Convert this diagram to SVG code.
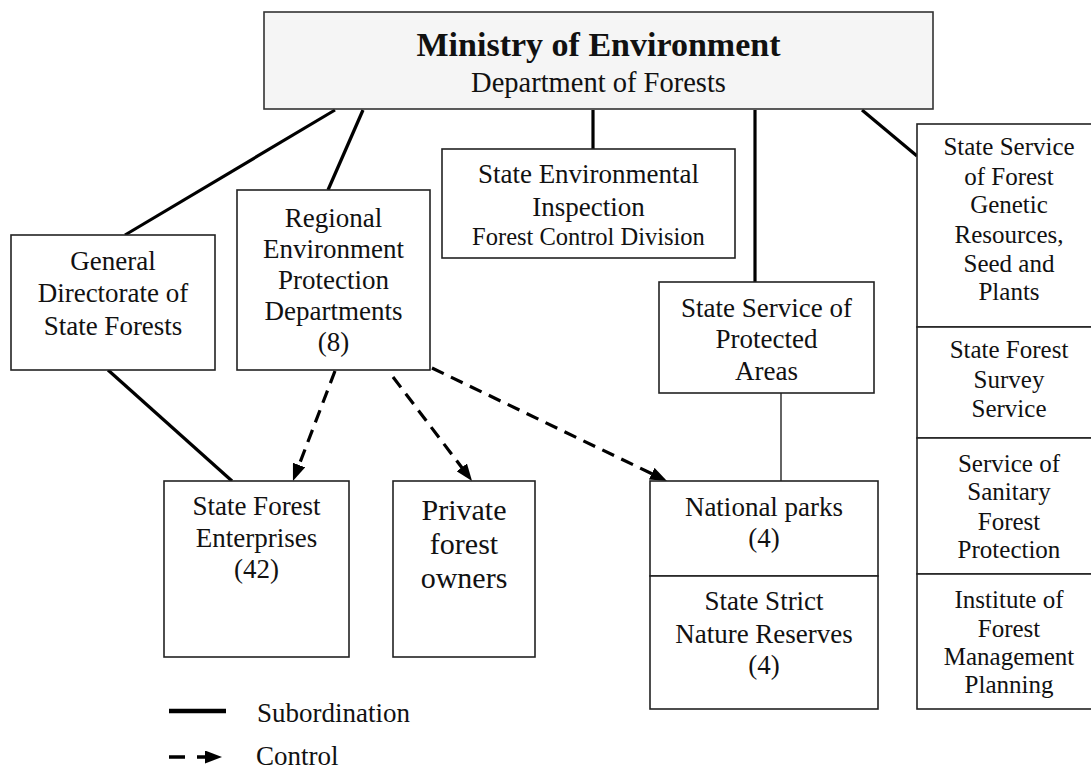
<svg xmlns="http://www.w3.org/2000/svg" width="1091" height="769" viewBox="0 0 1091 769">
<style>
  .box { fill: #ffffff; stroke: #222; stroke-width: 1.6; }
  .f { font-family: "Liberation Serif", "Tinos", "DejaVu Serif", "Noto Serif", serif; fill: #111; }
  .t { text-anchor: middle; }
  .t27 { font-size: 27px; }
  .t25 { font-size: 25px; }
  .solid { stroke: #000; stroke-width: 3.2; fill: none; }
  .thin { stroke: #111; stroke-width: 1.3; fill: none; }
  .dash { stroke: #000; stroke-width: 3.2; fill: none; stroke-dasharray: 13 8; marker-end: url(#arr); }
</style>
<defs>
  <marker id="arr" markerUnits="userSpaceOnUse" viewBox="0 0 17 13" refX="7" refY="6.5" markerWidth="17" markerHeight="13" orient="auto">
    <path d="M0,0 L17,6.5 L0,13 z" fill="#000"/>
  </marker>
</defs>
<rect width="1091" height="769" fill="#ffffff"/>

<g id="connectors">
  <line class="solid" x1="335" y1="110" x2="125" y2="235"/>
  <line class="solid" x1="363" y1="110" x2="328" y2="190"/>
  <line class="solid" x1="593" y1="110" x2="593" y2="149"/>
  <line class="solid" x1="755" y1="110" x2="755" y2="282"/>
  <line class="solid" x1="862" y1="110" x2="917" y2="156"/>
  <line class="solid" x1="108" y1="370" x2="232" y2="481"/>
  <line class="thin" x1="781" y1="393" x2="781" y2="481"/>
  <line class="dash" x1="335" y1="371" x2="296.5" y2="471.6"/>
  <line class="dash" x1="393" y1="377" x2="466" y2="473"/>
  <line class="dash" x1="432" y1="368" x2="658" y2="476.7"/>
</g>

<g id="ministry">
  <rect x="264" y="12" width="669" height="97" fill="#f5f5f5" stroke="#333" stroke-width="1.6"/>
  <text class="f t" x="598.5" y="56" font-size="34" font-weight="bold">Ministry of Environment</text>
  <text class="f t" x="598.5" y="92" font-size="28.5">Department of Forests</text>
</g>

<g id="general-directorate">
  <rect class="box" x="11" y="235" width="204" height="135"/>
  <text class="f t t27" x="113" y="270">General</text>
  <text class="f t t27" x="113" y="302">Directorate of</text>
  <text class="f t t27" x="113" y="335">State Forests</text>
</g>

<g id="regional">
  <rect class="box" x="237" y="190" width="193" height="180"/>
  <text class="f t t27" x="333.5" y="227">Regional</text>
  <text class="f t t27" x="333.5" y="258">Environment</text>
  <text class="f t t27" x="333.5" y="289">Protection</text>
  <text class="f t t27" x="333.5" y="320">Departments</text>
  <text class="f t t27" x="333.5" y="351">(8)</text>
</g>

<g id="inspection">
  <rect class="box" x="442" y="149" width="293" height="109"/>
  <text class="f t t27" x="588.5" y="183">State Environmental</text>
  <text class="f t t27" x="588.5" y="216">Inspection</text>
  <text class="f t" x="588.5" y="245" font-size="24.5">Forest Control Division</text>
</g>

<g id="protected-areas">
  <rect class="box" x="659" y="282" width="215" height="111"/>
  <text class="f t t27" x="766.5" y="317">State Service of</text>
  <text class="f t t27" x="766.5" y="348">Protected</text>
  <text class="f t t27" x="766.5" y="380">Areas</text>
</g>

<g id="national-parks">
  <rect class="box" x="650" y="481" width="228" height="95"/>
  <text class="f t t27" x="764" y="516">National parks</text>
  <text class="f t t27" x="764" y="547">(4)</text>
</g>

<g id="strict-reserves">
  <rect class="box" x="650" y="576" width="228" height="133"/>
  <text class="f t t27" x="764" y="610">State Strict</text>
  <text class="f t t27" x="764" y="643">Nature Reserves</text>
  <text class="f t t27" x="764" y="674">(4)</text>
</g>

<g id="state-forest-enterprises">
  <rect class="box" x="164" y="481" width="185" height="176"/>
  <text class="f t t27" x="256.5" y="515">State Forest</text>
  <text class="f t t27" x="256.5" y="547">Enterprises</text>
  <text class="f t t27" x="256.5" y="578">(42)</text>
</g>

<g id="private-owners">
  <rect class="box" x="393" y="481" width="142" height="176"/>
  <text class="f t" x="464" y="520" font-size="30">Private</text>
  <text class="f t" x="464" y="554" font-size="30">forest</text>
  <text class="f t" x="464" y="588" font-size="30">owners</text>
</g>

<g id="genetic-resources">
  <rect class="box" x="917" y="124" width="184" height="203"/>
  <text class="f t t25" x="1009" y="155">State Service</text>
  <text class="f t t25" x="1009" y="185">of Forest</text>
  <text class="f t t25" x="1009" y="213">Genetic</text>
  <text class="f t t25" x="1009" y="243">Resources,</text>
  <text class="f t t25" x="1009" y="272">Seed and</text>
  <text class="f t t25" x="1009" y="300">Plants</text>
</g>

<g id="forest-survey">
  <rect class="box" x="917" y="327" width="184" height="111"/>
  <text class="f t t25" x="1009" y="358">State Forest</text>
  <text class="f t t25" x="1009" y="388">Survey</text>
  <text class="f t t25" x="1009" y="417">Service</text>
</g>

<g id="sanitary-protection">
  <rect class="box" x="917" y="438" width="184" height="136"/>
  <text class="f t t25" x="1009" y="472">Service of</text>
  <text class="f t t25" x="1009" y="500">Sanitary</text>
  <text class="f t t25" x="1009" y="530">Forest</text>
  <text class="f t t25" x="1009" y="558">Protection</text>
</g>

<g id="management-planning">
  <rect class="box" x="917" y="574" width="184" height="135"/>
  <text class="f t t25" x="1009" y="608">Institute of</text>
  <text class="f t t25" x="1009" y="637">Forest</text>
  <text class="f t t25" x="1009" y="665">Management</text>
  <text class="f t t25" x="1009" y="693">Planning</text>
</g>

<g id="legend">
  <line x1="169" y1="711" x2="226" y2="711" stroke="#000" stroke-width="4.5"/>
  <text class="f" x="257" y="722" font-size="27">Subordination</text>
  <line x1="169" y1="757" x2="212" y2="757" stroke="#000" stroke-width="3.5" stroke-dasharray="16 12" marker-end="url(#arr)"/>
  <text class="f" x="256" y="765" font-size="27">Control</text>
</g>
</svg>
